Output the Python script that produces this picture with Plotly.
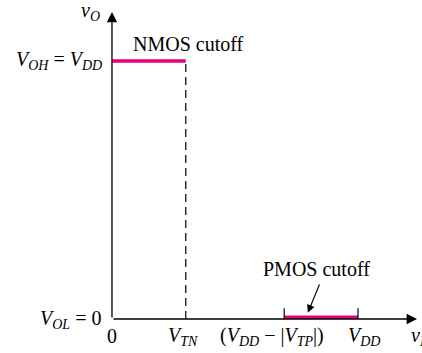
import plotly.graph_objects as go

# Circuit parameters (normalized units)
V_DD = 5.0
V_TN = 1.5
V_TP_abs = 1.5

# Segments
nmos_x = [0, V_TN]
nmos_y = [V_DD, V_DD]
pmos_x = [V_DD - V_TP_abs, V_DD]
pmos_y = [0.035, 0.035]

tick_vals = [0, V_TN, V_DD - V_TP_abs, V_DD]
tick_text = ["0", "<i>V</i><sub><i>TN</i></sub>",
             "(<i>V</i><sub><i>DD</i></sub> − |<i>V</i><sub><i>TP</i></sub>|)",
             "<i>V</i><sub><i>DD</i></sub>"]
# horizontal nudges of the tick labels (layout only)
label_shift = [0.0, -0.05, -0.25, 0.12]

MAG = "#e6007e"
FONT = "Liberation Serif"
FS = 20

x_end = 6.2
y_end = 5.95

fig = go.Figure()

# NMOS cutoff line
fig.add_trace(go.Scatter(x=nmos_x, y=nmos_y, mode="lines",
                         line=dict(color=MAG, width=3.5), hoverinfo="skip"))
# dashed vertical at V_TN
fig.add_trace(go.Scatter(x=[V_TN, V_TN], y=[0, V_DD], mode="lines",
                         line=dict(color="black", width=1.2, dash="8px,5px"), hoverinfo="skip"))
# PMOS cutoff line
fig.add_trace(go.Scatter(x=pmos_x, y=pmos_y, mode="lines",
                         line=dict(color=MAG, width=3.5), hoverinfo="skip"))
# small ticks at PMOS ends
for xv in pmos_x:
    fig.add_trace(go.Scatter(x=[xv, xv], y=[0, 0.21], mode="lines",
                             line=dict(color="black", width=1.2), hoverinfo="skip"))

ann = []
# axes with arrows
ann.append(dict(x=x_end, y=0, ax=0, ay=0, xref="x", yref="y", axref="x", ayref="y",
                showarrow=True, arrowhead=2, arrowsize=1.6, arrowwidth=1.3, arrowcolor="black", text=""))
ann.append(dict(x=0, y=y_end, ax=0, ay=0, xref="x", yref="y", axref="x", ayref="y",
                showarrow=True, arrowhead=2, arrowsize=1.6, arrowwidth=1.3, arrowcolor="black", text=""))

# tick labels on x
for xv, t, s in zip(tick_vals, tick_text, label_shift):
    ann.append(dict(x=xv + s, y=-0.33, xref="x", yref="y", text=t, showarrow=False,
                    xanchor="center", yanchor="middle", font=dict(family=FONT, size=FS, color="black")))
# axis titles
ann.append(dict(x=6.04, y=-0.33, xref="x", yref="y", text="<i>v</i><sub><i>I</i></sub>", showarrow=False,
                xanchor="left", yanchor="middle", font=dict(family=FONT, size=FS, color="black")))
ann.append(dict(x=-0.43, y=5.95, xref="x", yref="y", text="<i>v</i><sub><i>O</i></sub>", showarrow=False,
                xanchor="center", yanchor="middle", font=dict(family=FONT, size=FS, color="black")))
# y labels
ann.append(dict(x=-0.16, y=V_DD, xref="x", yref="y",
                text="<i>V</i><sub><i>OH</i></sub> = <i>V</i><sub><i>DD</i></sub>", showarrow=False,
                xanchor="right", yanchor="middle", font=dict(family=FONT, size=FS, color="black")))
ann.append(dict(x=-0.18, y=0, xref="x", yref="y",
                text="<i>V</i><sub><i>OL</i></sub> = 0", showarrow=False,
                xanchor="right", yanchor="middle", font=dict(family=FONT, size=FS, color="black")))
# region labels
ann.append(dict(x=0.39, y=5.33, xref="x", yref="y", text="NMOS cutoff", showarrow=False,
                xanchor="left", yanchor="middle", font=dict(family=FONT, size=FS, color="black")))
ann.append(dict(x=4.15, y=0.97, xref="x", yref="y", text="PMOS cutoff", showarrow=False,
                xanchor="center", yanchor="middle", font=dict(family=FONT, size=FS, color="black")))
ann.append(dict(x=3.98, y=0.12, ax=4.23, ay=0.70, xref="x", yref="y", axref="x", ayref="y",
                text="", showarrow=True, arrowhead=2, arrowsize=1.3, arrowwidth=1.2, arrowcolor="black"))

fig.update_layout(
    width=422, height=353,
    margin=dict(l=0, r=0, t=0, b=0),
    plot_bgcolor="white", paper_bgcolor="white",
    showlegend=False,
    xaxis=dict(range=[-2.276, 6.301], visible=False, fixedrange=True),
    yaxis=dict(range=[-0.659, 6.182], visible=False, fixedrange=True),
    annotations=ann,
)

fig.write_html("out.html", config={"displayModeBar": False},
               post_script="document.body.style.margin='0';document.body.style.overflow='hidden';")
